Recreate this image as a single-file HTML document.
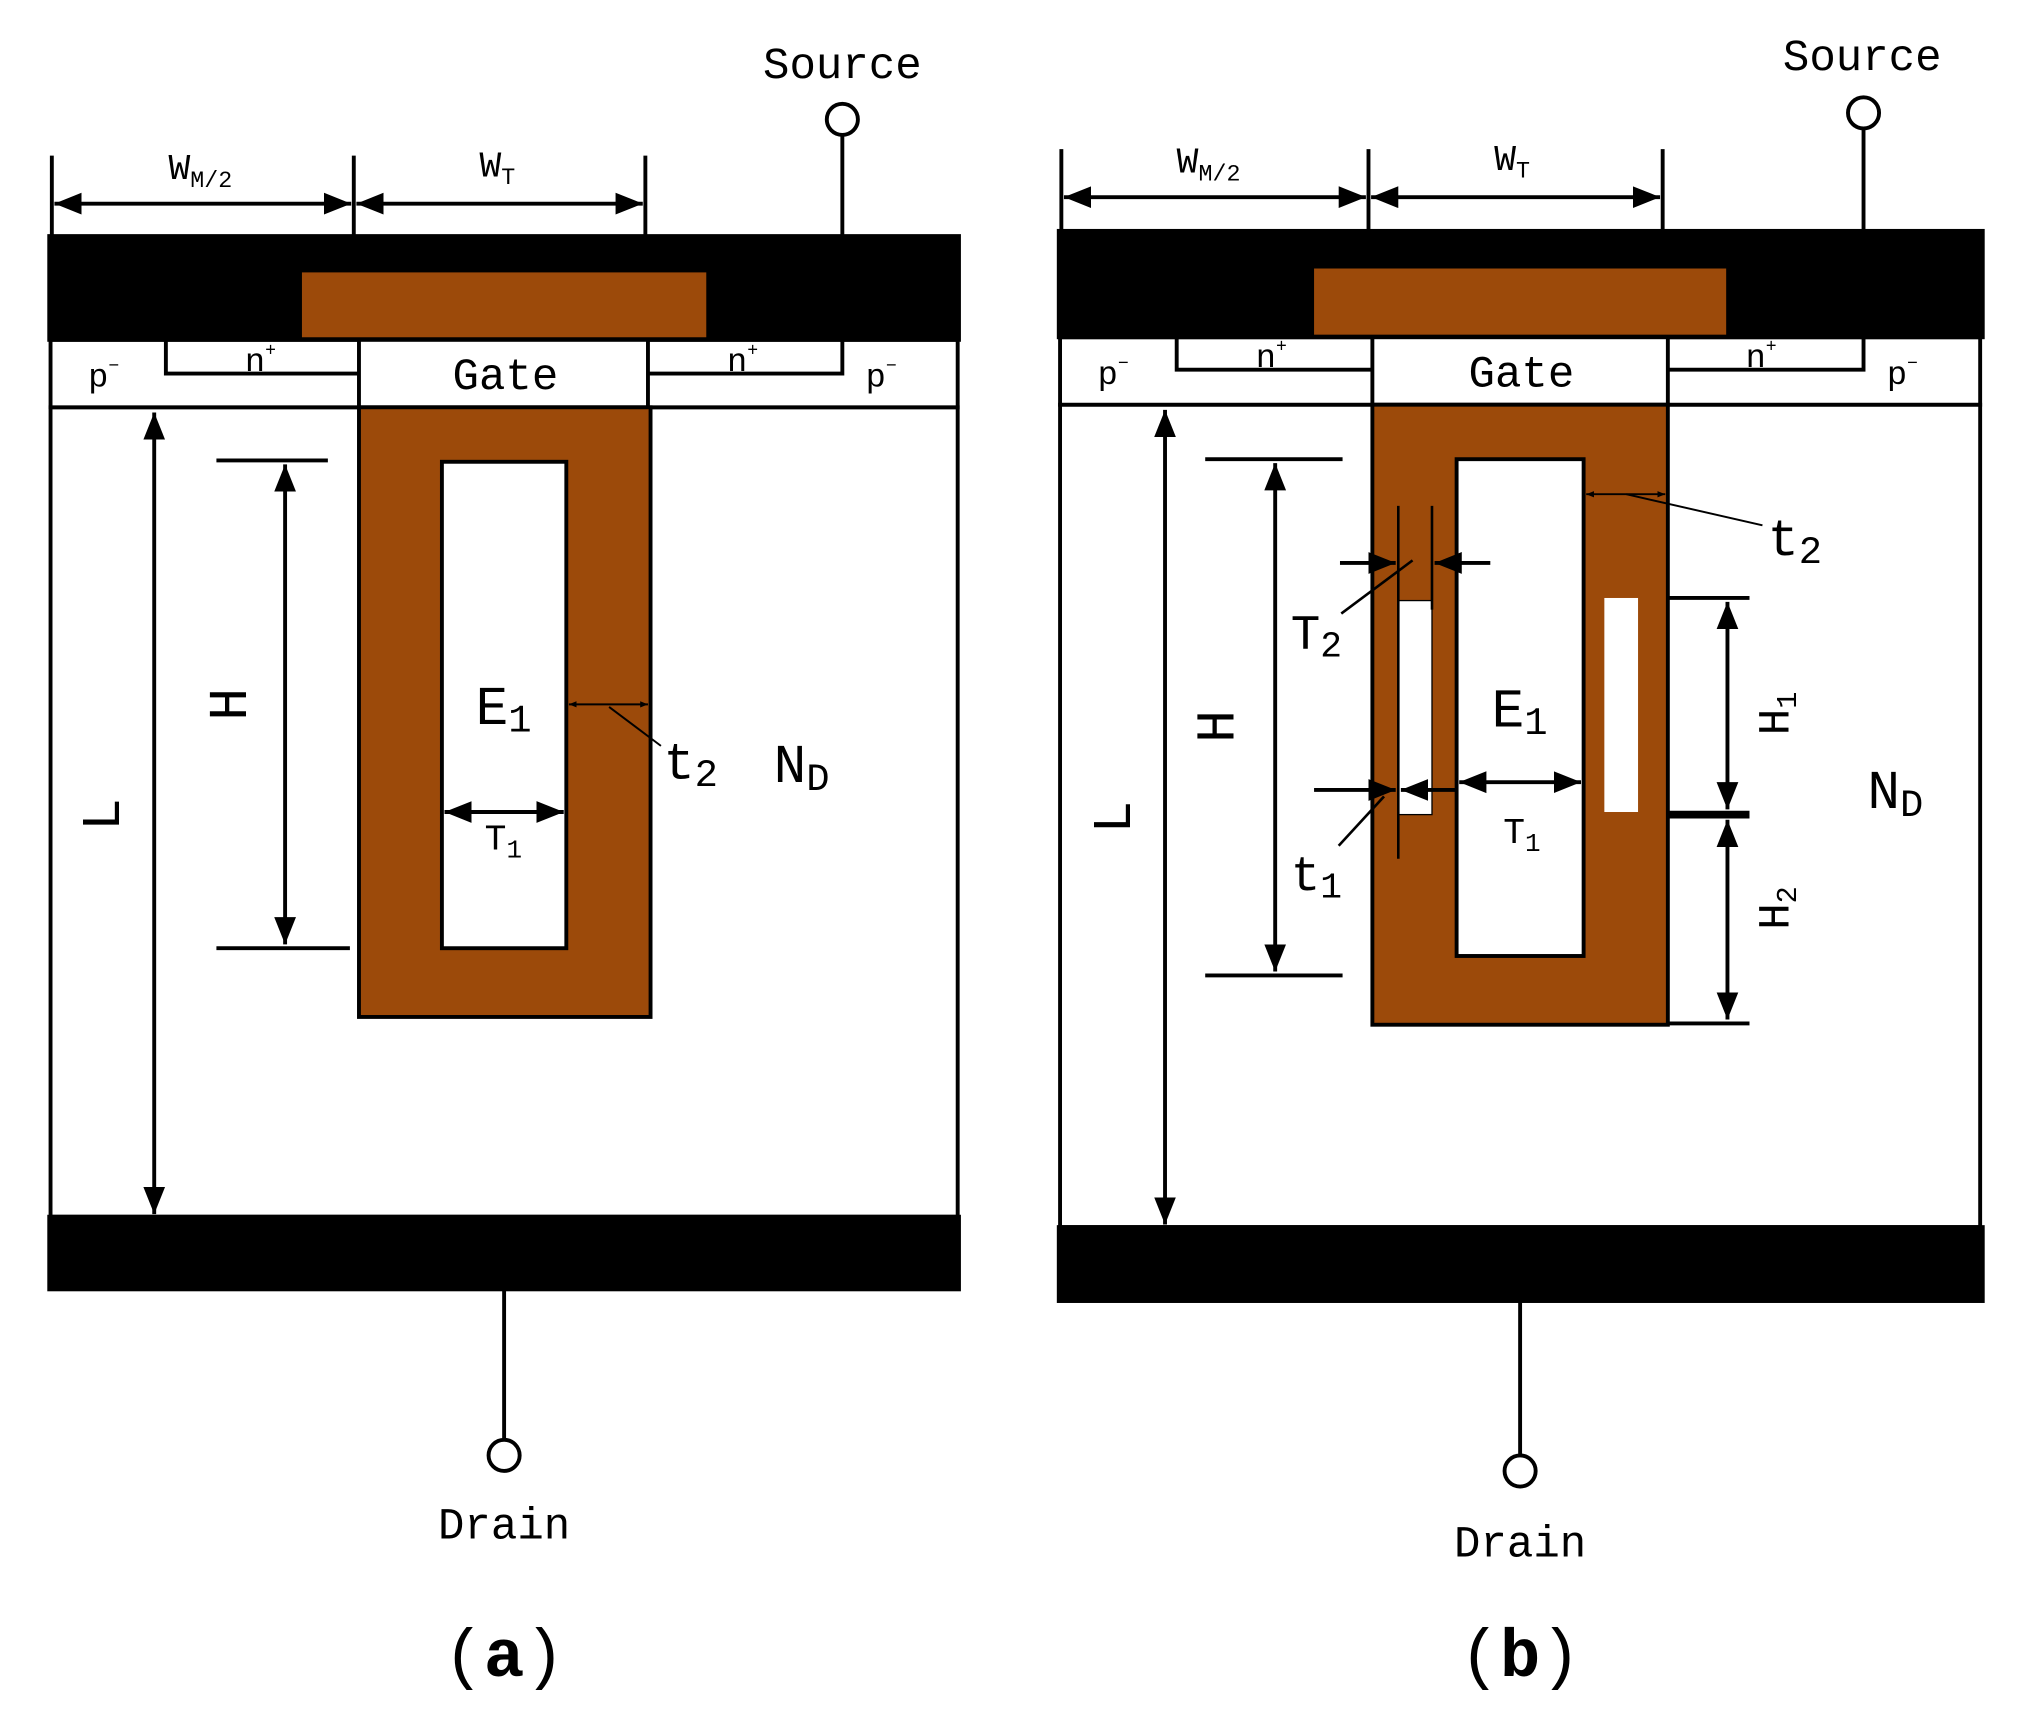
<!DOCTYPE html>
<html><head><meta charset="utf-8"><style>
html,body{margin:0;padding:0;background:#fff;}
svg{display:block;}
text{font-family:"Liberation Mono","DejaVu Sans Mono",monospace;fill:#000;}
.s{font-family:"Liberation Serif",serif;}
</style></head><body>
<svg width="2032" height="1720" viewBox="0 0 1568 1326" preserveAspectRatio="none" xmlns="http://www.w3.org/2000/svg">
<defs>
<marker id="a" viewBox="0 0 10 10" refX="10" refY="5" markerWidth="7" markerHeight="7" orient="auto-start-reverse"><path d="M0,1 L10,5 L0,9 z" fill="#000"/></marker>
<marker id="sm" viewBox="0 0 10 10" refX="10" refY="5" markerWidth="4" markerHeight="4" orient="auto-start-reverse"><path d="M0,1 L10,5 L0,9 z" fill="#000"/></marker>
</defs>
<g stroke="#000" stroke-width="3" fill="none">
<rect x="39" y="314" width="700" height="624" fill="#fff"/>
<rect x="39" y="262" width="700" height="52" fill="#fff"/>
<rect x="38" y="182" width="702" height="80" fill="#000"/>
<rect x="233" y="210" width="312" height="50" fill="#9c4a0a" stroke="none"/>
<rect x="38" y="938" width="702" height="56" fill="#000"/>
<polyline points="128,262 128,288 277,288"/>
<polyline points="650,262 650,288 500,288"/>
<rect x="277" y="262" width="223" height="52" fill="#fff"/>
<rect x="277" y="314" width="225" height="470" fill="#9c4a0a"/>
<rect x="341" y="356" width="96" height="375" fill="#fff"/>
<line x1="650" y1="105" x2="650" y2="182"/>
<circle cx="650" cy="92" r="12" fill="#fff"/>
<line x1="389" y1="994" x2="389" y2="1110"/>
<circle cx="389" cy="1122" r="12" fill="#fff"/>
<line x1="40" y1="120" x2="40" y2="182"/>
<line x1="273" y1="120" x2="273" y2="182"/>
<line x1="498" y1="120" x2="498" y2="182"/>
<line x1="42" y1="157" x2="271" y2="157" marker-start="url(#a)" marker-end="url(#a)"/>
<line x1="275" y1="157" x2="496" y2="157" marker-start="url(#a)" marker-end="url(#a)"/>
<line x1="119" y1="318" x2="119" y2="936" marker-start="url(#a)" marker-end="url(#a)"/>
<line x1="167" y1="355" x2="253" y2="355"/>
<line x1="167" y1="731" x2="270" y2="731"/>
<line x1="220" y1="358" x2="220" y2="728" marker-start="url(#a)" marker-end="url(#a)"/>
<line x1="343" y1="626" x2="435" y2="626" marker-start="url(#a)" marker-end="url(#a)"/>
<line x1="439" y1="543" x2="500" y2="543" stroke-width="1.5" marker-start="url(#sm)" marker-end="url(#sm)"/>
<line x1="470" y1="545" x2="510" y2="575" stroke-width="1.5"/>
<rect x="818" y="312" width="710" height="634" fill="#fff"/>
<rect x="818" y="260" width="710" height="52" fill="#fff"/>
<rect x="817" y="178" width="713" height="82" fill="#000"/>
<rect x="1014" y="207" width="318" height="51" fill="#9c4a0a" stroke="none"/>
<rect x="817" y="946" width="713" height="57" fill="#000"/>
<polyline points="908,260 908,285 1059,285"/>
<polyline points="1438,260 1438,285 1287,285"/>
<rect x="1059" y="260" width="228" height="52" fill="#fff"/>
<rect x="1059" y="312" width="228" height="478" fill="#9c4a0a"/>
<rect x="1124" y="354" width="98" height="383" fill="#fff"/>
<rect x="1079" y="463" width="26" height="165" fill="#fff" stroke-width="1"/>
<rect x="1238" y="461" width="26" height="165" fill="#fff" stroke="none"/>
<line x1="1438" y1="100" x2="1438" y2="178"/>
<circle cx="1438" cy="87" r="12" fill="#fff"/>
<line x1="1173" y1="1003" x2="1173" y2="1122"/>
<circle cx="1173" cy="1134" r="12" fill="#fff"/>
<line x1="819" y1="115" x2="819" y2="178"/>
<line x1="1056" y1="115" x2="1056" y2="178"/>
<line x1="1283" y1="115" x2="1283" y2="178"/>
<line x1="821" y1="152" x2="1054" y2="152" marker-start="url(#a)" marker-end="url(#a)"/>
<line x1="1058" y1="152" x2="1281" y2="152" marker-start="url(#a)" marker-end="url(#a)"/>
<line x1="899" y1="316" x2="899" y2="944" marker-start="url(#a)" marker-end="url(#a)"/>
<line x1="930" y1="354" x2="1036" y2="354"/>
<line x1="930" y1="752" x2="1036" y2="752"/>
<line x1="984" y1="357" x2="984" y2="749" marker-start="url(#a)" marker-end="url(#a)"/>
<line x1="1287" y1="461" x2="1350" y2="461"/>
<line x1="1287" y1="628" x2="1350" y2="628" stroke-width="6"/>
<line x1="1287" y1="789" x2="1350" y2="789"/>
<line x1="1333" y1="464" x2="1333" y2="624" marker-start="url(#a)" marker-end="url(#a)"/>
<line x1="1333" y1="632" x2="1333" y2="786" marker-start="url(#a)" marker-end="url(#a)"/>
<line x1="1126" y1="603" x2="1220" y2="603" marker-start="url(#a)" marker-end="url(#a)"/>
<line x1="1079" y1="390" x2="1079" y2="662" stroke-width="2"/>
<line x1="1105" y1="390" x2="1105" y2="470" stroke-width="2"/>
<line x1="1124" y1="565" x2="1124" y2="640" stroke-width="2"/>
<line x1="1034" y1="434" x2="1077" y2="434" marker-end="url(#a)"/>
<line x1="1150" y1="434" x2="1107" y2="434" marker-end="url(#a)"/>
<line x1="1014" y1="609" x2="1077" y2="609" marker-end="url(#a)"/>
<line x1="1124" y1="609" x2="1081" y2="609" marker-end="url(#a)"/>
<line x1="1035" y1="473" x2="1090" y2="432" stroke-width="2"/>
<line x1="1033" y1="652" x2="1068" y2="614" stroke-width="2"/>
<line x1="1224" y1="381" x2="1285" y2="381" stroke-width="1.5" marker-start="url(#sm)" marker-end="url(#sm)"/>
<line x1="1255" y1="381" x2="1360" y2="405" stroke-width="1.5"/>
</g>
<g font-size="34">
<text x="390" y="300" text-anchor="middle">Gate</text>
<text x="1174" y="298" text-anchor="middle">Gate</text>
<text x="650" y="60" text-anchor="middle">Source</text>
<text x="1437" y="54" text-anchor="middle">Source</text>
<text x="389" y="1186" text-anchor="middle">Drain</text>
<text x="1173" y="1200" text-anchor="middle">Drain</text>
</g>
<g class="s" font-size="26">
<text x="68" y="298">p<tspan font-size="14" dy="-12">−</tspan></text>
<text x="189" y="286">n<tspan font-size="14" dy="-12">+</tspan></text>
<text x="561" y="286">n<tspan font-size="14" dy="-12">+</tspan></text>
<text x="668" y="298">p<tspan font-size="14" dy="-12">−</tspan></text>
<text x="847" y="296">p<tspan font-size="14" dy="-12">−</tspan></text>
<text x="969" y="283">n<tspan font-size="14" dy="-12">+</tspan></text>
<text x="1347" y="283">n<tspan font-size="14" dy="-12">+</tspan></text>
<text x="1456" y="296">p<tspan font-size="14" dy="-12">−</tspan></text>
</g>
<g font-size="32">
<text x="130" y="138" font-size="28">W<tspan font-size="18" dy="6">M/2</tspan></text>
<text x="370" y="136" font-size="28">W<tspan font-size="18" dy="6">T</tspan></text>
<text x="908" y="133" font-size="28">W<tspan font-size="18" dy="6">M/2</tspan></text>
<text x="1153" y="131" font-size="28">W<tspan font-size="18" dy="6">T</tspan></text>
<text x="367" y="558" font-size="42">E<tspan font-size="30" dy="6">1</tspan></text>
<text x="1151" y="560" font-size="42">E<tspan font-size="30" dy="6">1</tspan></text>
<text x="597" y="603" font-size="42">N<tspan font-size="30" dy="6">D</tspan></text>
<text x="1441" y="623" font-size="42">N<tspan font-size="30" dy="6">D</tspan></text>
<text x="512" y="600" font-size="40">t<tspan font-size="30" dy="6">2</tspan></text>
<text x="1364" y="428" font-size="40">t<tspan font-size="30" dy="6">2</tspan></text>
<text x="374" y="655" font-size="28">T<tspan font-size="20" dy="6">1</tspan></text>
<text x="1160" y="650" font-size="28">T<tspan font-size="20" dy="6">1</tspan></text>
<text x="996" y="500" font-size="38">T<tspan font-size="28" dy="6">2</tspan></text>
<text x="996" y="686" font-size="38">t<tspan font-size="28" dy="6">1</tspan></text>
<text transform="translate(92,628) rotate(-90)" font-size="42" text-anchor="middle">L</text>
<text transform="translate(190,543) rotate(-90)" font-size="42" text-anchor="middle">H</text>
<text transform="translate(872,630) rotate(-90)" font-size="42" text-anchor="middle">L</text>
<text transform="translate(952,560) rotate(-90)" font-size="42" text-anchor="middle">H</text>
<text transform="translate(1380,550) rotate(-90)" font-size="34" text-anchor="middle">H<tspan font-size="22" dy="6">1</tspan></text>
<text transform="translate(1380,700) rotate(-90)" font-size="34" text-anchor="middle">H<tspan font-size="22" dy="6">2</tspan></text>
</g>
<g class="s" font-size="52">
<text x="389" y="1292" text-anchor="middle">(<tspan font-weight="bold">a</tspan>)</text>
<text x="1173" y="1292" text-anchor="middle">(<tspan font-weight="bold">b</tspan>)</text>
</g>
</svg>
</body></html>
